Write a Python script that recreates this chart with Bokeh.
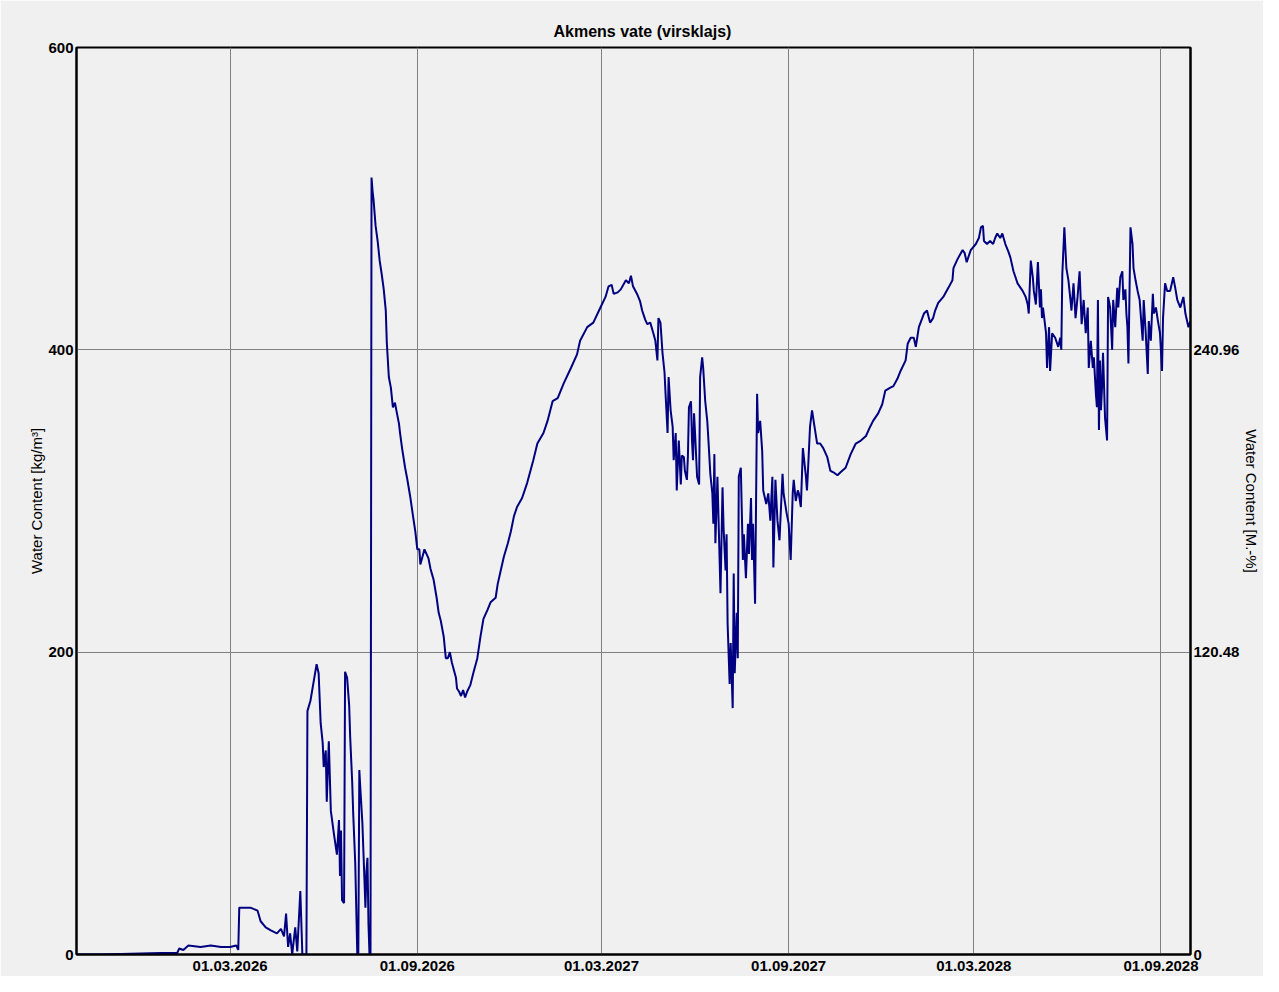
import pandas as pd
from bokeh.plotting import figure
from bokeh.models import (Range1d, LinearAxis, FixedTicker, DatetimeTickFormatter,
                          ColumnDataSource)
from bokeh.embed import file_html
from bokeh.resources import INLINE

title_text = "Akmens vate (virsklajs)"
y_label_left = "Water Content [kg/m³]"
y_label_right = "Water Content [M.-%]"

start_date = "2025-10-01"
end_date = "2028-09-30"

# days since start_date
day_offsets = [
    0, 24, 53, 83, 99, 101, 105, 110, 122, 132, 142, 151, 157, 159, 160, 171, 178, 181, 186, 191,
    197, 201, 204, 206, 208, 210, 212, 215, 217, 220, 222, 225, 226, 227, 230, 233, 236, 238, 240, 242,
    243, 245, 246, 248, 250, 253, 256, 258, 259, 260, 261, 263, 264, 266, 268, 269, 271, 272, 274, 275,
    276, 277, 278, 279, 281, 283, 284, 285, 286, 287, 288, 289, 290, 291, 292, 294, 296, 298, 300, 302,
    304, 305, 307, 309, 311, 313, 315, 317, 318, 320, 323, 325, 328, 331, 333, 335, 337, 338, 340, 342,
    344, 346, 348, 351, 354, 356, 358, 361, 363, 365, 367, 369, 371, 373, 374, 376, 378, 380, 382, 384,
    387, 390, 394, 397, 400, 404, 407, 412, 414, 417, 420, 424, 427, 430, 433, 438, 443, 449, 453, 459,
    463, 468, 473, 479, 486, 492, 495, 502, 508, 515, 520, 523, 526, 528, 532, 535, 540, 543, 545, 547,
    551, 554, 556, 559, 561, 564, 567, 569, 571, 572, 574, 576, 578, 579, 581, 582, 584, 586, 587, 589,
    590, 592, 594, 595, 597, 598, 600, 601, 602, 604, 605, 606, 607, 608, 610, 612, 613, 615, 616, 618,
    620, 621, 623, 625, 626, 627, 628, 630, 632, 633, 635, 636, 638, 639, 640, 642, 643, 645, 646, 647,
    649, 650, 651, 653, 655, 656, 658, 660, 661, 663, 664, 665, 667, 669, 670, 672, 674, 675, 678, 680,
    682, 684, 685, 687, 689, 691, 694, 695, 698, 700, 702, 704, 705, 707, 709, 710, 712, 714, 717, 718,
    719, 721, 723, 725, 728, 731, 734, 738, 741, 744, 748, 751, 756, 761, 766, 771, 776, 780, 783, 788,
    792, 795, 800, 803, 807, 810, 815, 817, 820, 823, 825, 828, 833, 836, 839, 842, 844, 847, 852, 857,
    861, 862, 866, 871, 873, 875, 879, 884, 887, 889, 891, 892, 895, 898, 901, 903, 905, 908, 910, 913,
    916, 918, 921, 923, 925, 928, 930, 933, 935, 936, 938, 940, 941, 943, 945, 947, 948, 949, 950, 953,
    954, 956, 957, 959, 962, 965, 967, 968, 969, 971, 973, 975, 977, 978, 980, 982, 984, 986, 988, 990,
    992, 994, 995, 997, 999, 1000, 1002, 1003, 1004, 1005, 1006, 1007, 1008, 1009, 1011, 1013, 1014, 1016, 1018, 1019,
    1021, 1023, 1024, 1026, 1028, 1029, 1031, 1032, 1033, 1034, 1036, 1038, 1039, 1041, 1043, 1045, 1048, 1049, 1051, 1053,
    1054, 1056, 1058, 1059, 1061, 1063, 1065, 1067, 1068, 1070, 1072, 1075, 1078, 1080, 1082, 1085, 1088, 1090, 1093, 1095,
]

# water content, kg/m3
water_content = [
    0, 0, 0.5, 1, 1, 4, 3, 6, 5, 6, 5, 5, 6, 3, 31, 31, 29, 22, 18, 16,
    14, 17, 12, 27, 5, 14, 0, 18, 2, 42, 0, 0, 0, 161, 168, 180, 192, 186, 153, 140,
    124, 135, 101, 141, 95, 80, 66, 89, 52, 82, 36, 34, 187, 183, 165, 144, 114, 93, 60, 30,
    0, 0, 122, 110, 87, 50, 31, 55, 64, 20, 0, 0, 514, 505, 499, 482, 472, 459, 450, 440,
    426, 405, 382, 375, 362, 365, 358, 351, 345, 335, 322, 315, 303, 289, 280, 268, 268, 258, 263, 268,
    265, 262, 255, 248, 236, 226, 221, 210, 196, 196, 200, 193, 188, 183, 176, 174, 171, 175, 170, 174,
    178, 186, 196, 210, 222, 228, 233, 236, 245, 254, 263, 272, 280, 290, 296, 302, 312, 327, 338, 345,
    353, 366, 368, 378, 388, 397, 406, 415, 418, 428, 435, 442, 443, 437, 438, 440, 446, 444, 449, 442,
    437, 432, 426, 420, 417, 418, 411, 406, 393, 421, 418, 398, 385, 371, 345, 382, 360, 349, 327, 345,
    307, 340, 311, 330, 329, 320, 314, 330, 362, 366, 340, 327, 358, 345, 316, 311, 382, 395, 388, 366,
    353, 342, 318, 305, 285, 331, 272, 316, 265, 239, 309, 283, 254, 278, 219, 179, 206, 163, 252, 186,
    226, 196, 316, 322, 261, 278, 249, 285, 265, 302, 261, 285, 232, 371, 345, 353, 333, 307, 298, 305,
    287, 316, 256, 314, 287, 274, 318, 305, 292, 285, 261, 305, 314, 300, 307, 305, 296, 335, 316, 307,
    320, 349, 360, 351, 338, 338, 335, 329, 320, 319, 317, 319, 322, 331, 338, 340, 343, 349, 353, 358,
    364, 373, 375, 376, 381, 386, 393, 404, 408, 408, 402, 415, 424, 426, 418, 421, 426, 431, 435, 441,
    446, 454, 460, 466, 464, 458, 466, 470, 474, 481, 482, 472, 470, 472, 470, 474, 477, 474, 477, 470,
    465, 461, 452, 448, 444, 441, 439, 435, 430, 424, 459, 448, 439, 430, 458, 428, 440, 421, 428, 411,
    388, 415, 386, 411, 408, 402, 408, 400, 450, 481, 454, 446, 433, 426, 444, 421, 435, 452, 417, 433,
    411, 428, 388, 406, 388, 395, 371, 362, 433, 347, 393, 360, 375, 398, 355, 340, 435, 428, 400, 433,
    415, 441, 428, 448, 452, 433, 440, 424, 415, 391, 481, 470, 454, 446, 439, 433, 406, 433, 411, 384,
    419, 406, 437, 424, 428, 419, 411, 386, 421, 444, 439, 439, 448, 441, 433, 428, 435, 424, 415, 419,
]

x_tick_dates = ["2026-03-01", "2026-09-01", "2027-03-01", "2027-09-01", "2028-03-01", "2028-09-01"]
left_ticks = [0, 200, 400, 600]
right_ticks = [0, 120.48, 240.96]
right_max = 361.44
left_max = 600

BG = "#f0f0f0"
LINE = "#000080"
GRID = "#808080"
FONT = "Liberation Sans"

start = pd.Timestamp(start_date)
dates = start + pd.to_timedelta(day_offsets, unit="D")
src = ColumnDataSource(dict(date=dates, wc=water_content))

p = figure(width=1263, height=976, x_axis_type="datetime",
           x_range=Range1d(start, pd.Timestamp(end_date)),
           y_range=Range1d(0, left_max),
           output_backend="svg", toolbar_location=None,
           min_border_left=76, min_border_right=73, min_border_top=47, min_border_bottom=22)

p.background_fill_color = BG
p.border_fill_color = BG
p.outline_line_color = "black"
p.outline_line_width = 2

p.title.text = title_text
p.title.align = "left"
p.title.offset = 477
p.title.text_font = FONT
p.title.text_font_size = "16px"
p.title.text_font_style = "bold"
p.title.text_color = "black"
p.title.standoff = 15

xticks = [pd.Timestamp(d).value // 10**6 for d in x_tick_dates]
p.xaxis.ticker = FixedTicker(ticks=xticks)
fmt = "%d.%m.%Y"
p.xaxis.formatter = DatetimeTickFormatter(days=fmt, months=fmt, years=fmt, hours=fmt,
                                          minutes=fmt, seconds=fmt, milliseconds=fmt,
                                          microseconds=fmt, hourmin=fmt, minsec=fmt)
p.yaxis.ticker = FixedTicker(ticks=left_ticks)
p.yaxis.axis_label = y_label_left

p.extra_y_ranges = {"pct": Range1d(0, right_max)}
ax_r = LinearAxis(y_range_name="pct", ticker=FixedTicker(ticks=right_ticks),
                  axis_label=y_label_right)
ax_r.major_label_overrides = {0: "0", 120.48: "120.48", 240.96: "240.96"}
p.add_layout(ax_r, "right")

for ax in [p.xaxis[0], p.yaxis[0], ax_r]:
    ax.axis_line_color = "black"
    ax.axis_line_width = 2
    ax.major_tick_in = 0
    ax.major_tick_out = 0
    ax.minor_tick_line_color = None
    ax.major_label_text_font = FONT
    ax.major_label_text_font_size = "15px"
    ax.major_label_text_font_style = "bold"
    ax.major_label_text_color = "black"
    ax.axis_label_text_font = FONT
    ax.axis_label_text_font_size = "15px"
    ax.axis_label_text_font_style = "normal"
    ax.axis_label_text_color = "black"

p.xaxis.major_label_standoff = 6
p.yaxis.major_label_standoff = 3
p.yaxis.axis_label_standoff = 0
ax_r.major_label_standoff = 3
ax_r.axis_label_standoff = 1

p.xgrid.ticker = FixedTicker(ticks=xticks)
p.xgrid.grid_line_color = GRID
p.ygrid.grid_line_color = GRID
p.xgrid.grid_line_width = 1
p.ygrid.grid_line_width = 1

p.line(x="date", y="wc", source=src, line_color=LINE, line_width=2)

open("out.html", "w").write(file_html(p, INLINE))
